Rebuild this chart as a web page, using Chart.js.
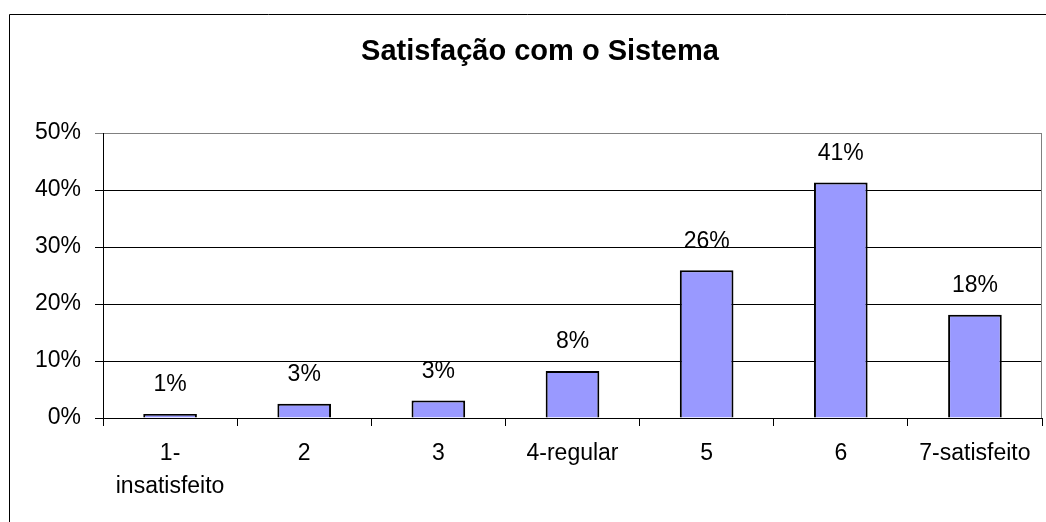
<!DOCTYPE html>
<html>
<head>
<meta charset="utf-8">
<script src="https://cdn.jsdelivr.net/npm/chart.js@4"></script>
<style>
  html, body { margin: 0; padding: 0; background: #fff; }
  #wrap { width: 1046px; height: 522px; }
</style>
</head>
<body>
<div id="wrap"><canvas id="chart" width="1046" height="522"></canvas></div>
<script>
// Chart data
const categories = [['1-', 'insatisfeito'], '2', '3', '4-regular', '5', '6', '7-satisfeito'];
const percentages = [0.7, 2.5, 3.05, 8.25, 25.9, 41.3, 18.1];
const valueLabels = ['1%', '3%', '3%', '8%', '26%', '41%', '18%'];
const yTicks = [0, 10, 20, 30, 40, 50];
const chartTitle = 'Satisfação com o Sistema';

const FONT = '"Liberation Sans", Arial, sans-serif';

// white background, outer frame (left and top edges) and the title
const framePlugin = {
    id: 'frame',
    beforeDraw(chart) {
        const ctx = chart.ctx;
        ctx.save();
        ctx.fillStyle = '#fff';
        ctx.fillRect(0, 0, chart.width, chart.height);
        ctx.strokeStyle = '#000';
        ctx.lineWidth = 1;
        ctx.beginPath();
        ctx.moveTo(9.5, chart.height);
        ctx.lineTo(9.5, 14.5);
        ctx.lineTo(chart.width, 14.5);
        ctx.stroke();

        // title is centred on the framed area, not the whole canvas
        ctx.fillStyle = '#000';
        ctx.font = 'bold 29px ' + FONT;
        ctx.textAlign = 'center';
        ctx.textBaseline = 'middle';
        ctx.fillText(chartTitle, (10 + chart.width + 24) / 2, 52);
        ctx.restore();
    },
    afterDraw(chart) {
        // grey plot-area edge on the right
        const a = chart.chartArea;
        const ctx = chart.ctx;
        ctx.save();
        ctx.strokeStyle = '#808080';
        ctx.lineWidth = 1;
        ctx.beginPath();
        ctx.moveTo(Math.round(a.right) - 0.5, a.top);
        ctx.lineTo(Math.round(a.right) - 0.5, a.bottom);
        ctx.stroke();
        ctx.restore();
    }
};

// percentage labels over the bars
const barLabels = {
    id: 'barLabels',
    afterDatasetsDraw(chart) {
        const ctx = chart.ctx;
        const meta = chart.getDatasetMeta(0);
        ctx.save();
        ctx.font = '23px ' + FONT;
        ctx.fillStyle = '#000';
        ctx.textAlign = 'center';
        ctx.textBaseline = 'middle';
        meta.data.forEach((bar, i) => {
            ctx.fillText(valueLabels[i], bar.x, bar.y - 29);
        });
        ctx.restore();
    }
};

new Chart(document.getElementById('chart'), {
    type: 'bar',
    data: {
        labels: categories,
        datasets: [{
            data: percentages,
            backgroundColor: '#9999FF',
            borderColor: '#000',
            borderWidth: 2,
            barPercentage: 0.4,
            categoryPercentage: 1
        }]
    },
    options: {
        responsive: false,
        animation: false,
        layout: { padding: { left: 0, right: 4, top: 133, bottom: 0 } },
        plugins: {
            legend: { display: false },
            tooltip: { enabled: false },
            title: { display: false }
        },
        scales: {
            y: {
                min: 0,
                max: 50,
                afterFit(scale) { scale.width = 103; },
                afterBuildTicks(scale) { scale.ticks = yTicks.map(v => ({ value: v })); },
                ticks: {
                    color: '#000',
                    padding: 14,
                    font: { family: FONT, size: 23 },
                    callback: v => v + '%'
                },
                grid: {
                    color: ctx => ctx.tick && ctx.tick.value === 50 ? '#808080' : '#000',
                    lineWidth: 1,
                    tickLength: 8
                },
                border: { color: '#000', width: 1 }
            },
            x: {
                afterFit(scale) { scale.height = 104; },
                ticks: {
                    color: '#000',
                    padding: 12,
                    maxRotation: 0,
                    autoSkip: false,
                    font: { family: FONT, size: 23, lineHeight: 1.4 }
                },
                grid: {
                    drawOnChartArea: false,
                    color: '#000',
                    tickLength: 8
                },
                border: { color: '#000', width: 1 }
            }
        }
    },
    plugins: [framePlugin, barLabels]
});
</script>
</body>
</html>
